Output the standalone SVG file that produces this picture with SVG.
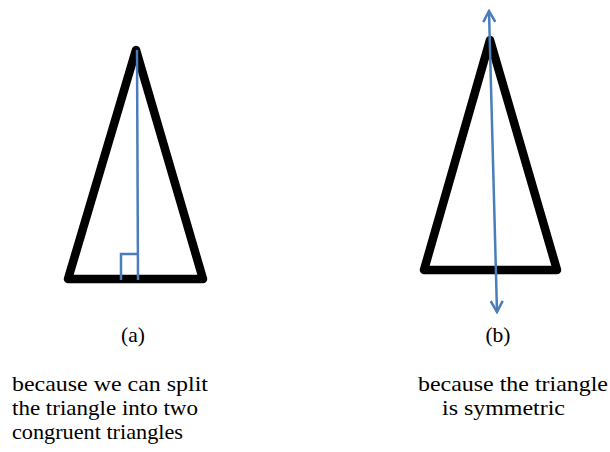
<svg xmlns="http://www.w3.org/2000/svg" width="610" height="452" viewBox="0 0 610 452">
<defs>
<style>
.tri{fill:none;stroke:#000;stroke-width:8.5;stroke-linejoin:round;stroke-linecap:round}
.blue{fill:none;stroke:#4a7ebb;stroke-width:2.5}
.t{font-family:"Liberation Serif",serif;font-size:21.5px;fill:#000}
</style>
<marker id="ah" viewBox="0 0 14 14" refX="12" refY="7" markerWidth="14" markerHeight="14" markerUnits="userSpaceOnUse" orient="auto-start-reverse">
<path d="M1,1 L12,7 L1,13" fill="none" stroke="#4a7ebb" stroke-width="2.5"/>
</marker>
</defs>
<rect width="610" height="452" fill="#fff"/>
<g id="triangle-a">
<polygon class="tri" points="136,50 68,279 203,279"/>
<line class="blue" x1="137" y1="50" x2="138" y2="280"/>
<polyline class="blue" points="121,280 121,254 138,254"/>
</g>
<g id="triangle-b">
<polygon class="tri" points="490,40 424,270 557,270"/>
</g>
<g id="connectors">
<line class="blue" x1="489" y1="11" x2="497" y2="312" marker-start="url(#ah)" marker-end="url(#ah)"/>
</g>
<g id="labels">
<text class="t" x="133" y="342" text-anchor="middle">(a)</text>
<text class="t" x="498" y="342" text-anchor="middle">(b)</text>
<text class="t" x="12" y="391" textLength="196" lengthAdjust="spacingAndGlyphs">because we can split</text>
<text class="t" x="12" y="415" textLength="186" lengthAdjust="spacingAndGlyphs">the triangle into two</text>
<text class="t" x="12" y="439" textLength="171" lengthAdjust="spacingAndGlyphs">congruent triangles</text>
<text class="t" x="418" y="391" textLength="190" lengthAdjust="spacingAndGlyphs">because the triangle</text>
<text class="t" x="442" y="415" textLength="123" lengthAdjust="spacingAndGlyphs">is symmetric</text>
</g>
</svg>
